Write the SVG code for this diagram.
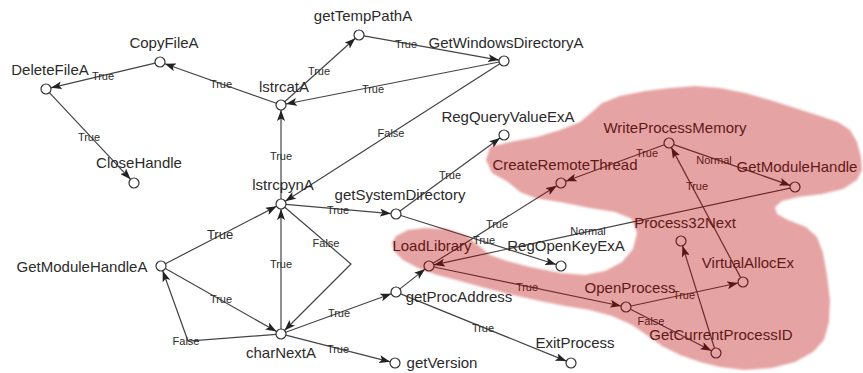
<svg xmlns="http://www.w3.org/2000/svg" width="863" height="373" viewBox="0 0 863 373">
  <style>
    .edge { fill: none; stroke: #444; stroke-width: 1.2; marker-end: url(#arr); }
    .node circle { fill: #fff; stroke: #333; stroke-width: 1.2; }
    .node text { font-family: "Liberation Sans", Arial, sans-serif; font-size: 15px; fill: #2b2b2b; text-anchor: middle; }
    .lbl { font-family: "Liberation Sans", Arial, sans-serif; font-size: 11px; fill: #2b2b2b; text-anchor: middle; }
    .lbl-big { font-size: 13px; }
  </style>
  <defs>
    <marker id="arr" viewBox="0 0 11 8" refX="11" refY="4" markerWidth="11" markerHeight="8" markerUnits="userSpaceOnUse" orient="auto">
      <path d="M0,0 L11,4 L0,8 L2.5,4 z" fill="#222"/>
    </marker>
    <filter id="soft" x="-5%" y="-5%" width="110%" height="110%">
      <feGaussianBlur stdDeviation="0.8"/>
    </filter>
  </defs>

  <rect width="863" height="373" fill="#fff"/>

  <!-- connectors -->
  <g id="edges">
    <line class="edge" x1="276.3" y1="103.3" x2="164.7" y2="63.7"/>
    <line class="edge" x1="155.1" y1="63.2" x2="50.9" y2="87.8"/>
    <line class="edge" x1="49.4" y1="92.6" x2="130.6" y2="179.3"/>
    <line class="edge" x1="281" y1="199" x2="281" y2="110"/>
    <line class="edge" x1="284.7" y1="101.7" x2="355.3" y2="38.3"/>
    <line class="edge" x1="363.9" y1="35.9" x2="499.1" y2="60.1"/>
    <line class="edge" x1="499.1" y1="62" x2="285.9" y2="104"/>
    <line class="edge" x1="499.8" y1="63.7" x2="285.2" y2="201.3"/>
    <line class="edge" x1="165.4" y1="263.7" x2="276.6" y2="206.3"/>
    <line class="edge" x1="165.4" y1="268.5" x2="276.6" y2="331.5"/>
    <polyline class="edge" points="276,334.4 188,341 162.7,270.7"/>
    <line class="edge" x1="281" y1="329" x2="281" y2="209"/>
    <polyline class="edge" points="284.8,207.3 351,264 284.5,330.5"/>
    <line class="edge" x1="286" y1="204.4" x2="391" y2="213.6"/>
    <line class="edge" x1="285.7" y1="332.3" x2="391.3" y2="293.7"/>
    <line class="edge" x1="285.8" y1="335.2" x2="390.2" y2="361.8"/>
    <line class="edge" x1="399.9" y1="288.9" x2="425.1" y2="269.1"/>
    <line class="edge" x1="400.6" y1="293.9" x2="566.4" y2="361.1"/>
    <line class="edge" x1="400" y1="211" x2="500" y2="138"/>
    <line class="edge" x1="400.8" y1="215.5" x2="556.2" y2="264.5"/>
    <line class="edge" x1="433.2" y1="263.3" x2="556.8" y2="185.7"/>
    <line class="edge" x1="790.1" y1="188.1" x2="433.9" y2="264.9"/>
    <line class="edge" x1="433.9" y1="267" x2="621.1" y2="306"/>
    <line class="edge" x1="630.9" y1="306" x2="738.1" y2="283"/>
    <line class="edge" x1="630.5" y1="309.3" x2="711.5" y2="350.7"/>
    <line class="edge" x1="714.5" y1="348.2" x2="682.5" y2="245.8"/>
    <line class="edge" x1="740.7" y1="277.6" x2="671.3" y2="147.4"/>
    <line class="edge" x1="664.3" y1="144.7" x2="565.7" y2="181.3"/>
    <line class="edge" x1="673.7" y1="144.6" x2="790.3" y2="185.4"/>

    <g id="edge-labels">
      <text class="lbl" x="221" y="88">True</text>
      <text class="lbl" x="103" y="80">True</text>
      <text class="lbl" x="89" y="141">True</text>
      <text class="lbl" x="281" y="160">True</text>
      <text class="lbl" x="319" y="75">True</text>
      <text class="lbl" x="406" y="48">True</text>
      <text class="lbl" x="373" y="93">True</text>
      <text class="lbl" x="391" y="137">False</text>
      <text class="lbl lbl-big" x="220" y="239">True</text>
      <text class="lbl" x="221" y="303">True</text>
      <text class="lbl" x="186" y="345">False</text>
      <text class="lbl" x="281" y="268">True</text>
      <text class="lbl" x="326" y="247">False</text>
      <text class="lbl" x="338" y="214">True</text>
      <text class="lbl" x="339" y="317">True</text>
      <text class="lbl" x="338" y="353">True</text>
      <text class="lbl" x="483" y="332">True</text>
      <text class="lbl" x="450" y="179">True</text>
      <text class="lbl" x="484" y="244">True</text>
      <text class="lbl" x="497" y="228">True</text>
      <text class="lbl" x="588" y="235">Normal</text>
      <text class="lbl" x="527" y="291">True</text>
      <text class="lbl" x="684" y="299">True</text>
      <text class="lbl" x="651" y="325">False</text>
      <text class="lbl" x="697" y="190">True</text>
      <text class="lbl" x="647" y="157">True</text>
      <text class="lbl" x="714" y="164">Normal</text>
    </g>
  </g>

  <!-- nodes -->
  <g id="n-CopyFileA" class="node"><circle cx="160" cy="62" r="5"/><text x="164" y="48">CopyFileA</text></g>
  <g id="n-DeleteFileA" class="node"><circle cx="46" cy="89" r="5"/><text x="50" y="75">DeleteFileA</text></g>
  <g id="n-CloseHandle" class="node"><circle cx="134" cy="183" r="5"/><text x="139" y="168">CloseHandle</text></g>
  <g id="n-lstrcatA" class="node"><circle cx="281" cy="105" r="5"/><text x="284" y="92">lstrcatA</text></g>
  <g id="n-lstrcpynA" class="node"><circle cx="281" cy="204" r="5"/><text x="283" y="190">lstrcpynA</text></g>
  <g id="n-getTempPathA" class="node"><circle cx="359" cy="35" r="5"/><text x="363" y="21">getTempPathA</text></g>
  <g id="n-GetWindowsDirectoryA" class="node"><circle cx="504" cy="61" r="5"/><text x="506" y="48">GetWindowsDirectoryA</text></g>
  <g id="n-RegQueryValueExA" class="node"><circle cx="504" cy="135" r="5"/><text x="508" y="122">RegQueryValueExA</text></g>
  <g id="n-CreateRemoteThread" class="node"><circle cx="561" cy="183" r="5"/><text x="565" y="170">CreateRemoteThread</text></g>
  <g id="n-WriteProcessMemory" class="node"><circle cx="669" cy="143" r="5"/><text x="675" y="133">WriteProcessMemory</text></g>
  <g id="n-GetModuleHandle" class="node"><circle cx="795" cy="187" r="5"/><text x="797" y="172">GetModuleHandle</text></g>
  <g id="n-GetModuleHandleA" class="node"><circle cx="161" cy="266" r="5"/><text x="82" y="272">GetModuleHandleA</text></g>
  <g id="n-charNextA" class="node"><circle cx="281" cy="334" r="5"/><text x="281" y="358">charNextA</text></g>
  <g id="n-getSystemDirectory" class="node"><circle cx="396" cy="214" r="5"/><text x="400" y="200">getSystemDirectory</text></g>
  <g id="n-LoadLibrary" class="node"><circle cx="429" cy="266" r="5"/><text x="432" y="251">LoadLibrary</text></g>
  <g id="n-RegOpenKeyExA" class="node"><circle cx="561" cy="266" r="5"/><text x="566" y="251">RegOpenKeyExA</text></g>
  <g id="n-getProcAddress" class="node"><circle cx="396" cy="292" r="5"/><text x="459" y="302">getProcAddress</text></g>
  <g id="n-getVersion" class="node"><circle cx="395" cy="363" r="5"/><text x="442" y="368">getVersion</text></g>
  <g id="n-ExitProcess" class="node"><circle cx="571" cy="363" r="5"/><text x="575" y="348">ExitProcess</text></g>
  <g id="n-Process32Next" class="node"><circle cx="681" cy="241" r="5"/><text x="685" y="228">Process32Next</text></g>
  <g id="n-VirtualAllocEx" class="node"><circle cx="743" cy="282" r="5"/><text x="748" y="268">VirtualAllocEx</text></g>
  <g id="n-OpenProcess" class="node"><circle cx="626" cy="307" r="5"/><text x="630" y="293">OpenProcess</text></g>
  <g id="n-GetCurrentProcessID" class="node"><circle cx="716" cy="353" r="5"/><text x="721" y="340">GetCurrentProcessID</text></g>

  <!-- translucent highlight region over the injection-related calls -->
  <path id="highlight" fill="rgb(185,10,10)" fill-opacity="0.36" filter="url(#soft)"
        d="M486,160 L490,147 L510,142 L537,137 L560,130 L580,122 L592,112 L602,103 L620,96 L645,91 L670,88 L695,86 L720,88 L745,93 L770,100 L795,108 L820,116 L838,122 L850,130 L857,142 L861,157 L862,170 L857,180 L843,189 L822,194 L798,197 L782,201 L775,207 L777,214 L788,220 L806,227 L817,237 L823,253 L827,275 L830,300 L829,322 L824,340 L813,352 L795,362 L772,368 L745,370 L720,367 L700,362 L680,355 L662,346 L648,336 L632,325 L612,316 L590,310 L565,306 L540,301 L513,295 L485,288 L460,281 L437,275 L418,268 L403,260 L394,251 L392,243 L396,236 L408,230 L425,228 L447,229 L465,235 L478,245 L490,255 L507,261 L530,267 L561,273 L585,275 L605,271 L622,262 L633,249 L637,233 L632,219 L615,212 L590,208 L560,202 L535,198 L520,192 L508,182 L492,173 Z"/>
</svg>
